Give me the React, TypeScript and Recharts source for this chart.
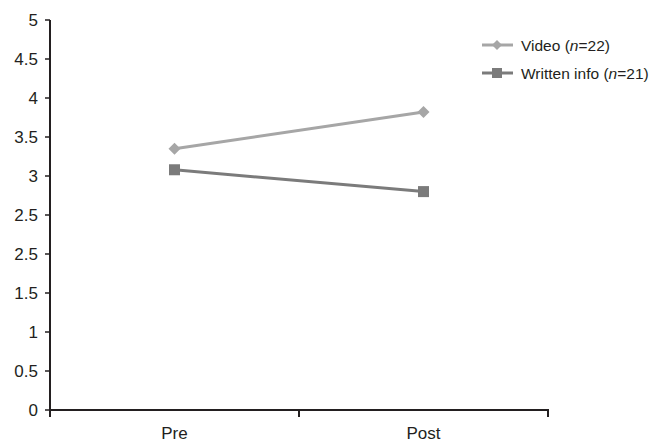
import { LineChart, Line, XAxis, YAxis } from 'recharts';

const categories = ['Pre', 'Post'];
const videoValues = [3.35, 3.82];
const writtenValues = [3.08, 2.8];
const yTicks = [0, 0.5, 1, 1.5, 2, 2.5, 3, 3.5, 4, 4.5, 5];
// the source figure prints "2.5" twice on the y axis
const yTickLabels = ['0', '0.5', '1', '1.5', '2.5', '2.5', '3', '3.5', '4', '4.5', '5'];
const seriesNames = ['Video', 'Written info'];
const seriesN = [22, 21];

const INK = '#231f20';
const VIDEO = '#a6a6a6';
const WRITTEN = '#7b7b7b';
const FONT = 'Liberation Sans, Arial, Helvetica, sans-serif';

const data = categories.map((c, i) => ({
  x: i + 0.5,
  name: c,
  video: videoValues[i],
  written: writtenValues[i],
}));

function Diamond({ cx, cy, fill, r = 6 }: any) {
  return <polygon points={`${cx},${cy - r} ${cx + r},${cy} ${cx},${cy + r} ${cx - r},${cy}`} fill={fill} />;
}

function Square({ cx, cy, fill, s = 11 }: any) {
  return <rect x={cx - s / 2} y={cy - s / 2} width={s} height={s} fill={fill} />;
}

function XTick({ x, y, payload }: any) {
  const v = payload.value;
  if (Number.isInteger(v)) {
    return <line x1={x} y1={y - 1} x2={x} y2={y + 7} stroke={INK} strokeWidth={2} />;
  }
  return (
    <text x={x} y={y + 29} textAnchor="middle" fill={INK} fontSize={17} fontFamily={FONT}>
      {categories[Math.floor(v)]}
    </text>
  );
}

// legend drawn as an overlay so it doesn't eat into the plot width
function LegendBox() {
  const rows = [
    { color: VIDEO, shape: 'diamond' },
    { color: WRITTEN, shape: 'square' },
  ];
  return (
    <svg width={174} height={60} style={{ position: 'absolute', left: 480, top: 33 }}>
      {rows.map((r, i) => {
        const y = 12 + i * 28;
        return (
          <g key={i}>
            <line x1={2} y1={y} x2={33} y2={y} stroke={r.color} strokeWidth={3} />
            {r.shape === 'diamond' ? (
              <Diamond cx={17} cy={y} fill={r.color} r={5} />
            ) : (
              <Square cx={17} cy={y} fill={r.color} s={10} />
            )}
            <text x={41} y={y + 5.5} fontSize={15.5} fill={INK} fontFamily={FONT}>
              {seriesNames[i]} (<tspan fontStyle="italic">n</tspan>={seriesN[i]})
            </text>
          </g>
        );
      })}
    </svg>
  );
}

export default function App() {
  return (
    <div style={{ position: 'absolute', left: 0, top: 0, width: 654, height: 442, background: '#fff' }}>
      <LineChart width={654} height={442} data={data} margin={{ top: 20, right: 106, bottom: 0, left: 0 }}>
        <XAxis
          dataKey="x"
          type="number"
          domain={[0, 2]}
          ticks={[0, 0.5, 1, 1.5, 2]}
          tick={<XTick />}
          tickLine={false}
          tickSize={0}
          tickMargin={0}
          axisLine={{ stroke: INK, strokeWidth: 2 }}
          height={32}
          interval={0}
        />
        <YAxis
          type="number"
          domain={[0, 5]}
          ticks={yTicks}
          interval={0}
          width={50}
          tickFormatter={(v: number) => yTickLabels[yTicks.indexOf(v)]}
          tick={{ fill: INK, fontSize: 17, fontFamily: FONT }}
          tickSize={5}
          tickMargin={7}
          tickLine={{ stroke: INK, strokeWidth: 1.5 }}
          axisLine={{ stroke: INK, strokeWidth: 2 }}
        />
        <Line
          dataKey="video"
          stroke={VIDEO}
          strokeWidth={3}
          isAnimationActive={false}
          dot={(p: any) => <Diamond key={`v${p.index}`} cx={p.cx} cy={p.cy} fill={VIDEO} r={6} />}
          activeDot={false}
        />
        <Line
          dataKey="written"
          stroke={WRITTEN}
          strokeWidth={3}
          isAnimationActive={false}
          dot={(p: any) => <Square key={`w${p.index}`} cx={p.cx} cy={p.cy} fill={WRITTEN} s={11} />}
          activeDot={false}
        />
      </LineChart>
      <LegendBox />
    </div>
  );
}
